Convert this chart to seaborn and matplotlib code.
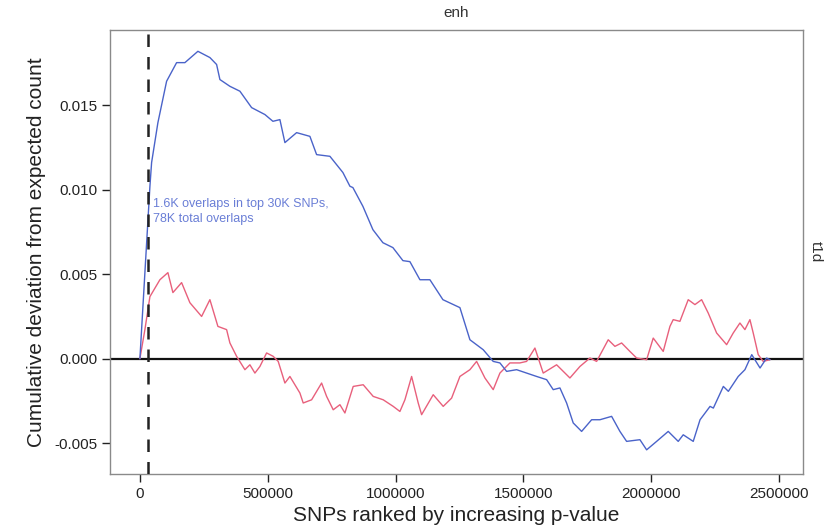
import matplotlib
matplotlib.use("Agg")
import matplotlib.pyplot as plt
import seaborn as sns
import pandas as pd

# Cumulative deviation from the expected overlap count, enhancers vs. t1d SNPs
enh_rank = [0, 39120, 45770, 70420, 104450, 143570, 176040, 226900, 273840, 300050,
            312960, 352080, 391200, 436970, 489000, 520300, 547680, 567240, 613010,
            665040, 691250, 743280, 794140, 821520, 833250, 872380, 911500, 950620,
            989740, 1028860, 1056240, 1095360, 1134480, 1185340, 1251840, 1290960,
            1343050, 1382110, 1408320, 1434540, 1473660, 1512770, 1551890, 1591010,
            1616830, 1643040, 1669250, 1695070, 1727930, 1767050, 1799520, 1845290,
            1877760, 1903970, 1956000, 1982220, 2021350, 2066730, 2105850, 2125410,
            2164530, 2191200, 2230320, 2243230, 2282350, 2301910, 2340550, 2366760,
            2393450, 2425920, 2451620, 2464560]
enh_dev = [0.0, 0.01018, 0.01160, 0.01396, 0.01641, 0.01751, 0.01751, 0.01818, 0.01781,
           0.01740, 0.01651, 0.01611, 0.01582, 0.01485, 0.01444, 0.01404, 0.01414,
           0.01278, 0.01337, 0.01315, 0.01207, 0.01197, 0.01101, 0.01020, 0.01012,
           0.00901, 0.00763, 0.00686, 0.00657, 0.00580, 0.00574, 0.00467, 0.00467,
           0.00349, 0.00302, 0.00112, 0.00053, -0.00016, -0.00025, -0.00075, -0.00065,
           -0.00085, -0.00105, -0.00124, -0.00183, -0.00173, -0.00262, -0.00380,
           -0.00430, -0.00361, -0.00361, -0.00341, -0.00430, -0.00489, -0.00479,
           -0.00539, -0.00489, -0.00430, -0.00489, -0.00450, -0.00489, -0.00361,
           -0.00282, -0.00292, -0.00164, -0.00193, -0.00105, -0.00065, 0.00024,
           -0.00055, 0.00004, -0.00006]

ctrl_rank = [0, 19560, 39120, 78240, 109540, 129100, 163130, 195600, 241370, 273840,
             305140, 339170, 352080, 378290, 410760, 430320, 449880, 469440, 495650,
             521470, 541030, 567240, 586800, 625920, 638830, 671700, 710810, 730370,
             756190, 782400, 801960, 834430, 873550, 912670, 951790, 990910, 1017120,
             1036680, 1062890, 1088710, 1102010, 1147390, 1186510, 1219370, 1251840,
             1290960, 1317170, 1349640, 1382110, 1408320, 1447440, 1486560, 1512770,
             1545240, 1577710, 1630130, 1682160, 1721280, 1760400, 1786610, 1832000,
             1858200, 1884410, 1916880, 1943090, 1982220, 2008030, 2047150, 2073360,
             2086270, 2112480, 2144950, 2171160, 2197370, 2223190, 2256050, 2295170,
             2321000, 2347200, 2366760, 2386320, 2399230, 2418790, 2438350, 2464560]
ctrl_dev = [0.0, 0.00172, 0.00367, 0.00467, 0.00509, 0.00391, 0.00450, 0.00331, 0.00250,
            0.00349, 0.00191, 0.00172, 0.00093, 0.00014, -0.00065, -0.00036, -0.00085,
            -0.00046, 0.00034, 0.00014, -0.00016, -0.00144, -0.00105, -0.00203,
            -0.00262, -0.00243, -0.00144, -0.00223, -0.00302, -0.00272, -0.00321,
            -0.00164, -0.00154, -0.00223, -0.00243, -0.00282, -0.00312, -0.00243,
            -0.00105, -0.00262, -0.00331, -0.00213, -0.00282, -0.00233, -0.00105,
            -0.00065, -0.00016, -0.00114, -0.00183, -0.00085, -0.00025, -0.00025,
            -0.00016, 0.00063, -0.00085, -0.00036, -0.00114, -0.00046, 0.00004,
            -0.00016, 0.00112, 0.00073, 0.00093, 0.00043, 0.00004, -0.00006, 0.00122,
            0.00043, 0.00191, 0.00231, 0.00221, 0.00349, 0.00320, 0.00349, 0.00270,
            0.00152, 0.00083, 0.00152, 0.00211, 0.00172, 0.00231, 0.00152, 0.00024,
            -0.00016, -0.00006]

top_cutoff = 30000
x_ticks = [0, 500000, 1000000, 1500000, 2000000, 2500000]
y_ticks = [-0.005, 0.000, 0.005, 0.010, 0.015]
y_tick_labels = ["-0.005", "0.000", "0.005", "0.010", "0.015"]
note = "1.6K overlaps in top 30K SNPs,\n78K total overlaps"

sns.set_theme(style="white")
plt.rcParams["font.family"] = ["Liberation Sans", "DejaVu Sans"]

fig = plt.figure(figsize=(8.27, 5.31), dpi=100)
ax = fig.add_axes([0.133, 0.107, 0.838, 0.8365])

blue = "#4a63c9"
red = "#e8607c"

df_enh = pd.DataFrame({"rank": enh_rank, "dev": enh_dev})
df_ctrl = pd.DataFrame({"rank": ctrl_rank, "dev": ctrl_dev})
sns.lineplot(data=df_ctrl, x="rank", y="dev", color=red, lw=1.0,
             estimator=None, sort=False, ax=ax)
sns.lineplot(data=df_enh, x="rank", y="dev", color=blue, lw=1.0,
             estimator=None, sort=False, ax=ax)

ax.axhline(0, color="#111111", lw=1.6, zorder=1)
ax.axvline(top_cutoff, color="#222222", lw=1.8, ls=(0, (5, 4)), zorder=3)

ax.text(top_cutoff + 20000, 0.0087, note, color="#6a7ed6", fontsize=9,
        ha="left", va="center", linespacing=1.3)

ax.set_xlim(-117000, 2594000)
ax.set_ylim(-0.00683, 0.01944)
ax.set_xticks(x_ticks)
ax.set_xticklabels([str(t) for t in x_ticks])
ax.set_yticks(y_ticks)
ax.set_yticklabels(y_tick_labels)
ax.tick_params(axis="both", which="major", direction="out", length=6, width=1,
               color="#222222", labelsize=11, labelcolor="#222222", pad=3,
               left=True, bottom=True)

for s in ax.spines.values():
    s.set_color("#8a8a8a")
    s.set_linewidth(1.0)

ax.set_xlabel("SNPs ranked by increasing p-value", fontsize=15, color="#222222", labelpad=4)
ax.set_ylabel("Cumulative deviation from expected count", fontsize=15, color="#222222",
              labelpad=6)

# facet strip labels
ax.text(0.5, 1.022, "enh", transform=ax.transAxes, ha="center", va="bottom",
        fontsize=11, color="#333333")
ax.text(1.008, 0.5, "t1d", transform=ax.transAxes, ha="left", va="center",
        rotation=-90, fontsize=11, color="#333333")

fig.savefig("out.png", dpi=100)
